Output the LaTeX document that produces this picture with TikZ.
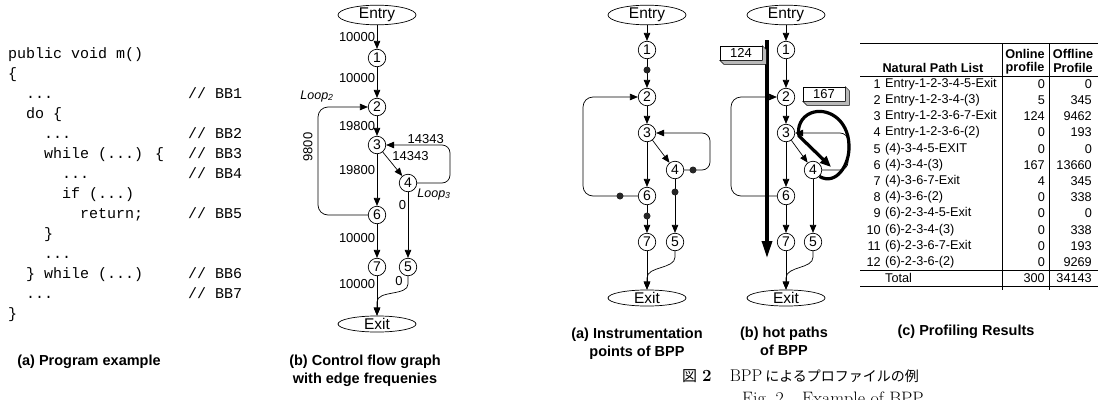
\documentclass[tikz,border=0pt]{standalone}
\usepackage{fontspec}
\newfontfamily\hv{Liberation Sans}
\newfontfamily\mono{Liberation Mono}
\newfontfamily\jp{Noto Sans CJK JP}
\usetikzlibrary{shapes.geometric,arrows.meta,calc}
\newcommand\fs[1]{\fontsize{#1}{#1}\selectfont}
\begin{document}
\begin{tikzpicture}[x=1pt,y=-1pt,
  nd/.style={circle,draw,line width=0.7pt,minimum size=17.5pt,inner sep=0pt,font=\hv\fs{14}},
  term/.style={ellipse,draw,line width=0.7pt,minimum width=78pt,minimum height=16pt,inner sep=0pt,font=\hv\fs{15.5}},
  ar/.style={-{Triangle[length=8pt,width=6.5pt]},line width=0.7pt},
  lbl/.style={font=\hv\fs{13},inner sep=1.5pt},
  idot/.style={circle,fill=black!85,minimum size=7pt,inner sep=0pt},
  hot/.style={line width=3.2pt,line join=round},
  codeln/.style={anchor=base west,inner sep=0pt,font=\mono\fs{15}},
  capt/.style={align=center,font=\hv\bfseries\fontsize{14.5}{18}\selectfont},
  cbox/.style={draw,fill=white,line width=0.6pt,minimum width=42pt,minimum height=14pt,inner sep=0pt,font=\hv\fs{13}},
  tb/.style={font=\hv\fs{12.7},inner sep=0pt},
  th/.style={font=\hv\bfseries\fs{12.7},inner sep=0pt},
  tline/.style={line width=0.6pt}]
\useasboundingbox (0,0) rectangle (1100,399);
\clip (0,0) rectangle (1100,399);

% ---------------- (a) code ----------------
\node[codeln] (l0) at (8,58) {public void m()};
\node[codeln] (l1) at (8,78) {\{};
\node[codeln] (l2) at (26,98) {...};
\node[codeln] (l3) at (26,118) {do \{};
\node[codeln] (l4) at (44,138) {...};
\node[codeln] (l5) at (44,158) {while (...) \{};
\node[codeln] (l6) at (62,178) {...};
\node[codeln] (l7) at (62,198) {if (...)};
\node[codeln] (l8) at (80,218) {return;};
\node[codeln] (l9) at (44,238) {\}};
\node[codeln] (l10) at (44,258) {...};
\node[codeln] (l11) at (26,278) {\} while (...)};
\node[codeln] (l12) at (26,298) {...};
\node[codeln] (l13) at (8,318) {\}};
\node[codeln] (c1) at (188,98) {// BB1};
\node[codeln] (c2) at (188,138) {// BB2};
\node[codeln] (c3) at (188,158) {// BB3};
\node[codeln] (c4) at (188,178) {// BB4};
\node[codeln] (c5) at (188,218) {// BB5};
\node[codeln] (c6) at (188,278) {// BB6};
\node[codeln] (c7) at (188,298) {// BB7};
\node[capt] (capa) at (89,362) {(a) Program example};

% ---------------- (b) CFG ----------------
\node[term] (bE) at (377,15) {Entry};
\node[nd] (b1) at (377,58) {1};
\node[nd] (b2) at (377,107) {2};
\node[nd] (b3) at (377,145) {3};
\node[nd] (b4) at (408,183) {4};
\node[nd] (b6) at (377,215) {6};
\node[nd] (b7) at (377,267) {7};
\node[nd] (b5) at (408,267) {5};
\node[term] (bX) at (377,324) {Exit};
\draw[ar] (bE) -- node[lbl,left]{10000} (b1);
\draw[ar] (b1) -- node[lbl,left,pos=0.35]{10000} (b2);
\draw[ar] (b2) -- node[lbl,left]{19800} (b3);
\draw[ar] (b3) -- node[lbl,left,pos=0.3]{19800} (b6);
\draw[ar] (b3) -- node[lbl,above right,pos=0.45,xshift=-1pt]{14343} (b4);
\draw[ar] (b4) -- node[lbl,left,pos=0.2]{0} (b5);
\draw[ar] (b6) -- node[lbl,left,pos=0.4]{10000} (b7);
\draw[ar] (b7) -- node[lbl,left,pos=0.2]{10000} (bX);
\draw[ar] (b5.south) -- ++(0,8) .. controls +(0,12) and +(0,-12) .. (377,302) -- (bX.north);
\node[lbl] (b0c) at (399,281) {0};
\draw[ar,rounded corners=8pt] (b4.east) -| (450,145) -- node[lbl,above,pos=0.38]{14343} (b3.east);
\draw[ar,rounded corners=10pt] (b6.west) -| (318,107) -- (b2.west);
\node[lbl,rotate=90] (b98) at (308,147) {9800};
\node[font=\hv\itshape\fs{12.5}] (lp2) at (317,96) {Loop\textsubscript{2}};
\node[font=\hv\itshape\fs{12.5}] (lp3) at (434,194) {Loop\textsubscript{3}};
\node[capt] (capb) at (365,371) {(b) Control flow graph\\with edge frequenies};

% ---------------- (c-a) instrumentation ----------------
\node[term] (cE) at (647,15) {Entry};
\node[nd] (cn1) at (647,50) {1};
\node[nd] (cn2) at (647,97) {2};
\node[nd] (cn3) at (647,133) {3};
\node[nd] (cn4) at (675,170) {4};
\node[nd] (cn6) at (647,196) {6};
\node[nd] (cn7) at (647,242) {7};
\node[nd] (cn5) at (675,242) {5};
\node[term] (cX) at (647,298) {Exit};
\draw[ar] (cE) -- (cn1);
\draw[ar] (cn1) -- (cn2);
\draw[ar] (cn2) -- (cn3);
\draw[ar] (cn3) -- (cn6);
\draw[ar] (cn3) -- (cn4);
\draw[ar] (cn4) -- (cn5);
\draw[ar] (cn6) -- (cn7);
\draw[ar] (cn7) -- (cX);
\draw[ar] (cn5.south) -- ++(0,6) .. controls +(0,12) and +(0,-12) .. (647,278) -- (cX.north);
\draw[ar,rounded corners=8pt] (cn4.east) -| (710,133) -- (cn3.east);
\draw[ar,rounded corners=10pt] (cn6.west) -| (583,97) -- (cn2.west);
\node[idot] (p1) at (647,70) {};
\node[idot] (p2) at (693,170) {};
\node[idot] (p3) at (675,192) {};
\node[idot] (p4) at (620,196) {};
\node[idot] (p5) at (647,216) {};
\node[capt] (capca) at (637,344) {(a) Instrumentation\\points of BPP};

% ---------------- (c-b) hot paths ----------------
\node[term] (dE) at (786,15) {Entry};
\node[nd] (dn1) at (786,50) {1};
\node[nd] (dn2) at (786,97) {2};
\node[nd] (dn3) at (786,133) {3};
\node[nd] (dn4) at (813,170) {4};
\node[nd] (dn6) at (786,196) {6};
\node[nd] (dn7) at (786,242) {7};
\node[nd] (dn5) at (813,242) {5};
\node[term] (dX) at (786,298) {Exit};
\draw[ar] (dE) -- (dn1);
\draw[ar] (dn1) -- (dn2);
\draw[ar] (dn2) -- (dn3);
\draw[ar] (dn3) -- (dn6);
\draw[ar] (dn3) -- (dn4);
\draw[ar] (dn4) -- (dn5);
\draw[ar] (dn6) -- (dn7);
\draw[ar] (dn7) -- (dX);
\draw[ar] (dn5.south) -- ++(0,6) .. controls +(0,12) and +(0,-12) .. (786,278) -- (dX.north);
\draw[ar,rounded corners=8pt] (dn4.east) -| (848,133) -- (dn3.east);
\draw[ar,rounded corners=10pt] (dn6.west) -| (731,97) -- (dn2.west);
\coordinate (hs) at (767,40);
\coordinate (he) at (767,258);
\draw[hot,-{Triangle[length=17pt,width=10pt]}] (hs) -- (he);
\draw[hot,-{Triangle[length=11pt,width=9pt]}] (dn4.south east) .. controls (836,186) and (850,165) .. (849,145)
   .. controls (848,118) and (826,107) .. (811,113) .. controls (801,117) and (797,127) .. (799,136) -- (831,167);
\node[cbox] (b124) at (741,53) {124};
\fill[gray!55,draw=black,line width=0.5pt] (b124.north east) -- ++(4,4) -- ($(b124.south east)+(4,4)$) -- ($(b124.south west)+(4,4)$) -- (b124.south west) -- (b124.south east) -- cycle;
\node[cbox] (b167) at (824,94) {167};
\fill[gray!55,draw=black,line width=0.5pt] (b167.north east) -- ++(4,4) -- ($(b167.south east)+(4,4)$) -- ($(b167.south west)+(4,4)$) -- (b167.south west) -- (b167.south east) -- cycle;
\node[capt] (capcb) at (784,341) {(b) hot paths\\of BPP};

% ---------------- (c) table ----------------
\draw[tline] (860,43) -- (1098,43);
\draw[tline] (860,76) -- (1098,76);
\draw[tline] (860,270) -- (1098,270);
\draw[tline] (860,286) -- (1098,286);
\draw[tline] (1002,43) -- (1002,290);
\draw[tline] (1049,43) -- (1049,290);
\node[th] (h1) at (933,68) {Natural Path List};
\node[th] (h2) at (1025,54) {Online};
\node[th] (h3) at (1025,68) {profile};
\node[th] (h4) at (1073,54) {Offline};
\node[th] (h5) at (1073,68) {Profile};
\foreach \i/\p/\a/\b in {1/{Entry-1-2-3-4-5-Exit}/0/0, 2/{Entry-1-2-3-4-(3)}/5/345,
   3/{Entry-1-2-3-6-7-Exit}/124/9462, 4/{Entry-1-2-3-6-(2)}/0/193, 5/{(4)-3-4-5-EXIT}/0/0,
   6/{(4)-3-4-(3)}/167/13660, 7/{(4)-3-6-7-Exit}/4/345, 8/{(4)-3-6-(2)}/0/338,
   9/{(6)-2-3-4-5-Exit}/0/0, 10/{(6)-2-3-4-(3)}/0/338, 11/{(6)-2-3-6-7-Exit}/0/193,
   12/{(6)-2-3-6-(2)}/0/9269}{
  \pgfmathsetmacro\yy{84+16.2*(\i-1)}
  \node[tb,anchor=east] (rn\i) at (881,\yy) {\i};
  \node[tb,anchor=west] (rp\i) at (885,\yy) {\p};
  \node[tb,anchor=east] (ra\i) at (1045,\yy) {\a};
  \node[tb,anchor=east] (rb\i) at (1092,\yy) {\b};
}
\node[tb,anchor=west] (tt) at (885,278) {Total};
\node[tb,anchor=east] (ta) at (1045,278) {300};
\node[tb,anchor=east] (tb2) at (1092,278) {34143};
\node[capt] (capc) at (966,332) {(c) Profiling Results};

% ---------------- figure caption ----------------
\node[anchor=base west,inner sep=0pt,font=\fs{17}] (jcap) at (682,381)
  {{\jp\fs{15}図}\hspace{5pt}{\bfseries 2}\hspace{18pt}BPP\hspace{3pt}{\jp\fs{14}によるプロファイルの例}};
\node[anchor=base west,inner sep=0pt,font=\fs{18}] (ecap) at (742,404) {Fig.~2\hspace{18pt}Example of BPP};
\end{tikzpicture}
\end{document}
